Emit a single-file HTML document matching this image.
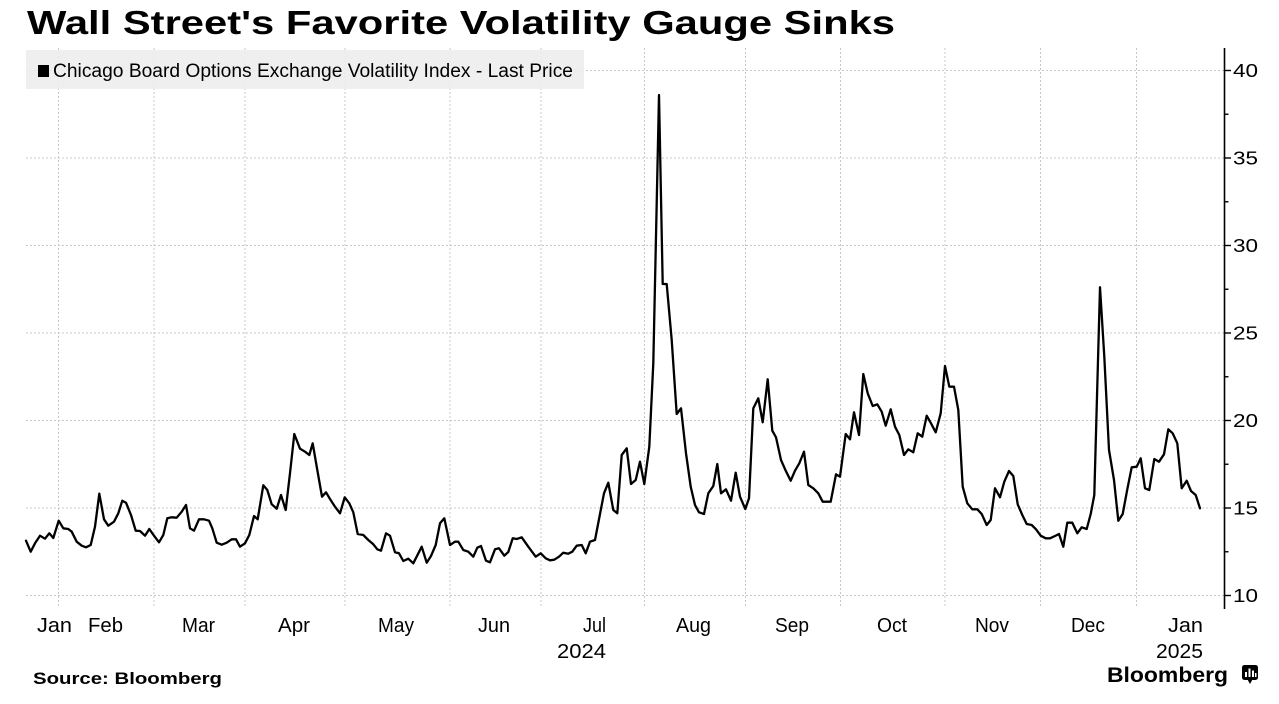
<!DOCTYPE html>
<html>
<head>
<meta charset="utf-8">
<style>
  html, body { margin: 0; padding: 0; background: #ffffff; }
  body { width: 1279px; height: 704px; overflow: hidden; }
  svg { display: block; }
  text { font-family: "Liberation Sans", "DejaVu Sans", sans-serif; fill: #000; }
</style>
</head>
<body>
<svg width="1279" height="704" viewBox="0 0 1279 704" xmlns="http://www.w3.org/2000/svg">
  <rect x="0" y="0" width="1279" height="704" fill="#ffffff"/>

  <!-- Title -->
  <text x="27" y="34" font-size="33" font-weight="bold" textLength="868" lengthAdjust="spacingAndGlyphs">Wall Street's Favorite Volatility Gauge Sinks</text>

  <!-- Horizontal gridlines -->
  <g stroke="#c8c8c8" stroke-width="1" stroke-dasharray="2,2" fill="none">
    <line x1="26" y1="70.5" x2="1224" y2="70.5"/>
    <line x1="26" y1="158" x2="1224" y2="158"/>
    <line x1="26" y1="245.5" x2="1224" y2="245.5"/>
    <line x1="26" y1="333" x2="1224" y2="333"/>
    <line x1="26" y1="420.5" x2="1224" y2="420.5"/>
    <line x1="26" y1="508" x2="1224" y2="508"/>
    <line x1="26" y1="595.5" x2="1224" y2="595.5"/>
  </g>
  <!-- Vertical gridlines -->
  <g stroke="#c8c8c8" stroke-width="1" stroke-dasharray="2,2" fill="none">
    <line x1="58.5" y1="48" x2="58.5" y2="607"/>
    <line x1="154" y1="48" x2="154" y2="607"/>
    <line x1="245" y1="48" x2="245" y2="607"/>
    <line x1="345" y1="48" x2="345" y2="607"/>
    <line x1="450" y1="48" x2="450" y2="607"/>
    <line x1="541" y1="48" x2="541" y2="607"/>
    <line x1="644.5" y1="48" x2="644.5" y2="607"/>
    <line x1="745.5" y1="48" x2="745.5" y2="607"/>
    <line x1="840.5" y1="48" x2="840.5" y2="607"/>
    <line x1="945" y1="48" x2="945" y2="607"/>
    <line x1="1040.5" y1="48" x2="1040.5" y2="607"/>
    <line x1="1136.5" y1="48" x2="1136.5" y2="607"/>
  </g>

  <!-- Legend -->
  <rect x="26" y="50" width="558" height="39" fill="#ededed" fill-opacity="0.88"/>
  <rect x="38" y="65" width="11" height="12" fill="#000"/>
  <text x="53" y="77" font-size="19" textLength="520" lengthAdjust="spacingAndGlyphs">Chicago Board Options Exchange Volatility Index - Last Price</text>

  <!-- Series -->
  <polyline fill="none" stroke="#000" stroke-width="2.3" stroke-linejoin="round" stroke-linecap="round" points="
26,540.7 30.7,551.7 35,543.3 40,535.7 45,538.7 49.3,533.3 53.3,538 58.7,520.7 63.3,528.3 68.3,529 71.7,531.7
76.7,541.7 81.7,545.7 86,547.3 90.7,545 95,526.7 99.3,493.7 104,519.3 108.3,525.7 114,521.7 118.3,513.3
122.3,500.7 126,502.7 131,515 135.7,530.7 140,531 145,535.7 149.3,529 154,535.7 159,542.3 163.3,535
167.3,518.3 171.7,517.3 176.7,517.7 181.7,511.7 186,505 190,528.3 194,530.7 199,519.3 204,519.3 209,520.7
212.3,528.3 216.7,542.7 221.7,544.7 226.7,542.7 231.7,539.3 236,539.3 240,546.7 245,543.3 249.3,535 254,516
257.7,519.3 263.3,485.3 267.3,490 271.7,504.3 276.7,508.7 281,495 285.7,510 290,473.3 294.3,434 300,448.7
305,451.7 309.3,455 312.7,443.3 317.3,470 322,496.7 326,492.3 330,499 335,506.7 340,513.3 344.7,497.3
349.3,503.3 353.3,512.3 357.7,534 363.3,535 368.3,540 373.3,544.3 377.3,549.3 381,550.7 386,533.3 390,535.7
395,552.3 399,553.3 403.3,561 408.3,558.7 413.3,563.3 421.7,546.7 426.7,562.7 431,556 435.7,545 440,523.3
444.3,518.3 450,545 455,541.7 458.3,541.7 463.3,550 468.3,551.7 473.3,556.7 477.3,547.7 481,546 486,560.7
490,562.3 495,549.3 499,548.3 504.3,555.7 508.3,552 512.7,538.3 516.7,539 521.7,537.3 528.3,546.7 535.7,556.7
540.7,553.3 545.7,558.3 550,560.3 554.3,559.7 559,556.7 563.3,552.7 568.3,553.7 572.3,551.7 576.7,545.7
581.7,545 585.7,553.3 590,541.7 595,540 600,514 604,493.3 608.3,482.7 613.3,510 617.3,513.3 621.7,455
626.7,448.3 631,484 635.7,480 640,461.7 644.3,484 649.3,446.7 653.3,363.3 659,95 662.7,284 666.7,284
671.7,340 676.7,414 681,408.3 686,453.3 690.7,486.7 695,505 699,512.3 704,514 708.3,493.3 713.3,486
717.3,464 721,493.3 726,489.3 731,500.7 735.7,472.7 740,496.7 745.3,509 749,498.3 753.3,408.3 758.3,398.3
762.7,422.3 767.7,379.3 772.3,430.7 776,437.3 781,460 785.7,470.7 790.7,480.7 795,470.7 799.3,463.3 804,451.7
808.3,485 813.3,488.3 818.3,493.3 822.7,501.7 830.7,501.7 836,474.3 840,476.7 845.7,434 850,439.3 854,412.3
859,435 863.3,374 867.7,393.3 872.7,406 877.3,404.3 881.7,411.7 885.7,425.7 890.7,409.3 895,426.7 899.3,435
904,455 908.3,449.3 913.3,452.3 917.7,433.3 922.3,436.7 926.7,415.7 931,423.3 935.7,432.3 940.7,413.3 945,366
949.3,386.7 954,386.7 958.3,410 962.7,486.7 967.3,503.3 972.3,509.3 977.3,509.3 981.7,514 986.7,525 990.7,520
995,488.3 1000,497.3 1004.3,481.7 1009,471 1013.3,476 1017.7,504.3 1022.3,515 1026.7,524 1031.7,525 1036,529.3
1040.7,535.7 1045.7,538.3 1050,538.3 1055,536 1059,534 1063.3,546.7 1067.3,522.7 1072.3,522.7 1077.3,533.3
1081.7,527.3 1086.7,529 1090.7,514 1094.3,495 1100,287.3 1104.3,356.7 1109,450 1114,480 1118.3,520.7
1122.7,514 1127.3,489.3 1131.7,467.3 1136.7,466.7 1140.7,458.3 1145,488.3 1149.3,490 1154.3,459 1159,461.7
1164,454.3 1168.3,429.3 1172.7,433.3 1177.3,443.3 1181.7,488.3 1186.7,480.7 1191,491 1195.7,495 1200,508.3"/>

  <!-- Right axis -->
  <g stroke="#000" fill="none">
    <line x1="1224.5" y1="48" x2="1224.5" y2="609" stroke-width="1.6"/>
    <g stroke-width="1.4">
      <line x1="1224" y1="70.5" x2="1231" y2="70.5"/>
      <line x1="1224" y1="158" x2="1231" y2="158"/>
      <line x1="1224" y1="245.5" x2="1231" y2="245.5"/>
      <line x1="1224" y1="333" x2="1231" y2="333"/>
      <line x1="1224" y1="420.5" x2="1231" y2="420.5"/>
      <line x1="1224" y1="508" x2="1231" y2="508"/>
      <line x1="1224" y1="595.5" x2="1231" y2="595.5"/>
      <line x1="1224" y1="114.25" x2="1228.5" y2="114.25"/>
      <line x1="1224" y1="201.75" x2="1228.5" y2="201.75"/>
      <line x1="1224" y1="289.25" x2="1228.5" y2="289.25"/>
      <line x1="1224" y1="376.75" x2="1228.5" y2="376.75"/>
      <line x1="1224" y1="464.25" x2="1228.5" y2="464.25"/>
      <line x1="1224" y1="551.75" x2="1228.5" y2="551.75"/>
    </g>
  </g>
  <g font-size="18.5">
    <text x="1233" y="77" textLength="25" lengthAdjust="spacingAndGlyphs">40</text>
    <text x="1233" y="164.5" textLength="25" lengthAdjust="spacingAndGlyphs">35</text>
    <text x="1233" y="252" textLength="25" lengthAdjust="spacingAndGlyphs">30</text>
    <text x="1233" y="339.5" textLength="25" lengthAdjust="spacingAndGlyphs">25</text>
    <text x="1233" y="427" textLength="25" lengthAdjust="spacingAndGlyphs">20</text>
    <text x="1233" y="514.5" textLength="25" lengthAdjust="spacingAndGlyphs">15</text>
    <text x="1233" y="602" textLength="25" lengthAdjust="spacingAndGlyphs">10</text>
  </g>

  <!-- X axis labels -->
  <g font-size="20.5">
    <text x="37" y="632" textLength="35" lengthAdjust="spacingAndGlyphs">Jan</text>
    <text x="88" y="632" textLength="35" lengthAdjust="spacingAndGlyphs">Feb</text>
    <text x="182" y="632" textLength="33" lengthAdjust="spacingAndGlyphs">Mar</text>
    <text x="278" y="632" textLength="32" lengthAdjust="spacingAndGlyphs">Apr</text>
    <text x="378" y="632" textLength="36" lengthAdjust="spacingAndGlyphs">May</text>
    <text x="478" y="632" textLength="32" lengthAdjust="spacingAndGlyphs">Jun</text>
    <text x="583" y="632" textLength="23" lengthAdjust="spacingAndGlyphs">Jul</text>
    <text x="557" y="658" textLength="49" lengthAdjust="spacingAndGlyphs">2024</text>
    <text x="676" y="632" textLength="35" lengthAdjust="spacingAndGlyphs">Aug</text>
    <text x="775" y="632" textLength="34" lengthAdjust="spacingAndGlyphs">Sep</text>
    <text x="877" y="632" textLength="30" lengthAdjust="spacingAndGlyphs">Oct</text>
    <text x="975" y="632" textLength="34" lengthAdjust="spacingAndGlyphs">Nov</text>
    <text x="1071" y="632" textLength="34" lengthAdjust="spacingAndGlyphs">Dec</text>
    <text x="1168" y="632" textLength="35" lengthAdjust="spacingAndGlyphs">Jan</text>
    <text x="1156" y="658" textLength="47" lengthAdjust="spacingAndGlyphs">2025</text>
  </g>

  <!-- Footer -->
  <text x="33" y="684" font-size="16.5" font-weight="bold" textLength="189" lengthAdjust="spacingAndGlyphs">Source: Bloomberg</text>
  <text x="1107" y="682" font-size="21" font-weight="bold" textLength="121" lengthAdjust="spacingAndGlyphs">Bloomberg</text>
  <g>
    <rect x="1242" y="665" width="16" height="15" rx="2.5" fill="#000"/>
    <polygon points="1247.5,679.5 1252.5,679.5 1250,684" fill="#000"/>
    <rect x="1245" y="672" width="2" height="5" fill="#fff"/>
    <rect x="1248.5" y="668.5" width="2" height="8.5" fill="#fff"/>
    <rect x="1252" y="670.5" width="2" height="6.5" fill="#fff"/>
    <rect x="1255" y="673" width="1.5" height="4" fill="#fff"/>
  </g>
</svg>
</body>
</html>
